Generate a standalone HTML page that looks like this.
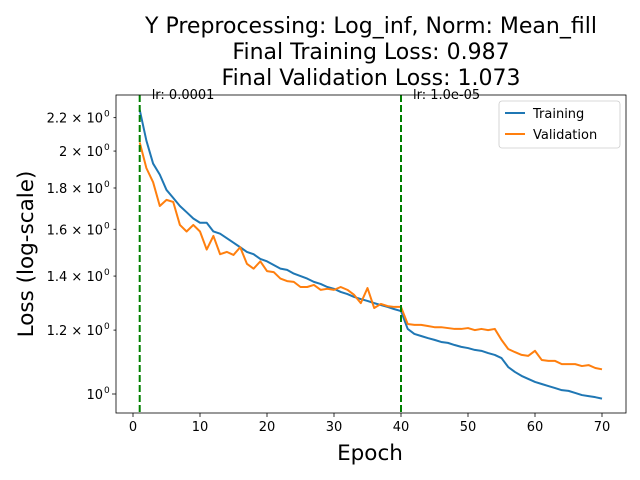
<!DOCTYPE html>
<html><head><meta charset="utf-8"><style>
body{margin:0;background:#fff}
svg{display:block;font-family:"DejaVu Sans","Liberation Sans",sans-serif}
</style></head><body>
<svg id="chart" width="640" height="480">
<g font-size="22" text-anchor="middle" fill="#000">
<text x="371" y="33">Y Preprocessing: Log_inf, Norm: Mean_fill</text>
<text x="371" y="59">Final Training Loss: 0.987</text>
<text x="371" y="85">Final Validation Loss: 1.073</text>
</g>
<g id="plot"></g>
<text x="370" y="460" font-size="21.5" text-anchor="middle">Epoch</text>
<text transform="translate(33,254) rotate(-90)" font-size="21.5" text-anchor="middle">Loss (log-scale)</text>
</svg>
<script>
const epochs=[];for(let i=1;i<=70;i++)epochs.push(i);
const trainLoss=[2.25,2.06,1.93,1.87,1.79,1.75,1.71,1.68,1.65,1.63,1.63,1.59,1.58,1.56,1.54,1.52,1.50,1.49,1.47,1.46,1.445,1.43,1.425,1.41,1.40,1.39,1.377,1.369,1.357,1.35,1.338,1.33,1.319,1.311,1.304,1.296,1.289,1.282,1.274,1.267,1.204,1.187,1.18,1.173,1.167,1.16,1.157,1.15,1.144,1.14,1.134,1.131,1.124,1.118,1.108,1.08,1.065,1.053,1.044,1.035,1.029,1.023,1.017,1.011,1.009,1.003,0.997,0.994,0.991,0.987];
const valLoss=[2.05,1.905,1.83,1.71,1.74,1.73,1.62,1.59,1.62,1.59,1.51,1.57,1.49,1.50,1.487,1.52,1.45,1.43,1.46,1.42,1.416,1.39,1.38,1.377,1.357,1.357,1.365,1.346,1.35,1.346,1.357,1.346,1.327,1.296,1.353,1.278,1.293,1.285,1.282,1.282,1.221,1.218,1.218,1.214,1.21,1.21,1.207,1.204,1.204,1.207,1.2,1.204,1.2,1.204,1.167,1.137,1.127,1.118,1.115,1.131,1.102,1.099,1.099,1.089,1.089,1.089,1.083,1.086,1.077,1.073];
const xTicks=[0,10,20,30,40,50,60,70];
const yTicks=[1.0,1.2,1.4,1.6,1.8,2.0,2.2];
const yTickLabels=["10","1.2 × 10","1.4 × 10","1.6 × 10","1.8 × 10","2 × 10","2.2 × 10"];
const lrEpochs=[1,40];
const lrLabels=["lr: 0.0001","lr: 1.0e-05"];
const L=116,R=626,T=95,B=413;
const xs=v=>133+(v-0)*(602-133)/70;
const ys=v=>394-807*Math.log10(v);
const NS="http://www.w3.org/2000/svg";
const g=document.getElementById('plot');
function mk(t,a,p){const e=document.createElementNS(NS,t);for(const k in a)e.setAttribute(k,a[k]);(p||g).appendChild(e);return e;}
xTicks.forEach(v=>{
 const t=mk('line',{x1:xs(v),x2:xs(v),y1:B,y2:B+4,stroke:'#000','stroke-width':0.8});
 
 
 const l=mk('text',{x:xs(v),y:B+18,'font-size':13,'text-anchor':'middle'});l.textContent=v;
 
 
});
yTicks.forEach((v,i)=>{
 const y=ys(v);
 const t=mk('line',{x1:L-(i==0?4:2.5),x2:L,y1:y,y2:y,stroke:'#000','stroke-width':0.8});
 
 
 const l=mk('text',{x:L-13,y:y+5,'font-size':13,'text-anchor':'end'});l.textContent=yTickLabels[i];
 
 
 const s=mk('text',{x:L-12,y:y-1,'font-size':9,'text-anchor':'start'});s.textContent='0';
 
 
});
function line(data,color,name){
 const p=mk('polyline',{points:data.map((v,i)=>xs(epochs[i])+','+ys(v)).join(' '),fill:'none',stroke:color,'stroke-width':2,'stroke-linejoin':'round'});
 
 
}
line(trainLoss,'#1f77b4','training-line');
line(valLoss,'#ff7f0e','validation-line');
lrEpochs.forEach((e,i)=>{
 const v=mk('line',{x1:xs(e),x2:xs(e),y1:T,y2:B,stroke:'#008000','stroke-width':2,'stroke-dasharray':'7,3'});
 
 
 const t=mk('text',{x:xs(e)+12,y:T+4,'font-size':13});t.textContent=lrLabels[i];
 
 
});
const fr=mk('rect',{x:L,y:T,width:R-L,height:B-T,fill:'none',stroke:'#000','stroke-width':0.8});


const lg=mk('g',{});


mk('rect',{x:499,y:101,width:121,height:47,rx:3,fill:'#fff',stroke:'#ccc','stroke-width':0.8},lg);
[['Training','#1f77b4',113],['Validation','#ff7f0e',134]].forEach(([n,c,y])=>{
 const e=mk('g',{},lg);
 
 
 mk('line',{x1:505,x2:525,y1:y,y2:y,stroke:c,'stroke-width':2},e);
 const t=mk('text',{x:533,y:y+5,'font-size':13},e);t.textContent=n;
});
</script>
</body></html>
